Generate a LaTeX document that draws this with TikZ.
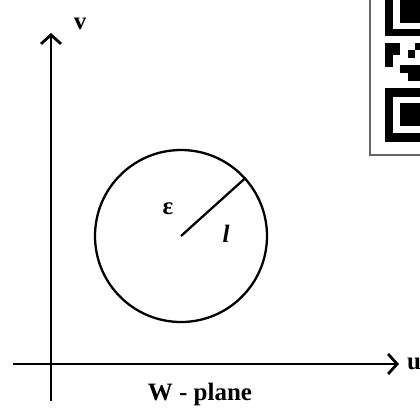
\documentclass[tikz,border=0pt]{standalone}
\usepackage{fontspec}
\setmainfont{Liberation Serif}
\usetikzlibrary{arrows.meta}
\tikzset{
  axis/.style={line width=2.8pt, -{Straight Barb[length=9pt,width=20pt,line width=2.8pt]}},
  lab/.style={font=\bfseries\fontsize{25}{27}\selectfont, inner sep=0pt},
  qr/.style={fill=black, draw=none},
  qrw/.style={fill=white, draw=none}
}
\begin{document}
\begin{tikzpicture}[x=1pt,y=-1pt]
\useasboundingbox (0,0) rectangle (420,408);
% axes
\coordinate (vbot) at (51,401);
\coordinate (vtop) at (51,33);
\coordinate (hl) at (13,364);
\coordinate (hr) at (399,364);
\draw[axis] (vbot) -- (vtop);
\draw[axis] (hl) -- (hr);
\node[lab] (v) at (80,24) {v};
\node[lab] (u) at (414,364) {u};
\node[lab] (w) at (200,394) {W - plane};
% circle
\node[draw, line width=2.3pt, circle, minimum size=172pt, inner sep=0pt] (c) at (181,236) {};
\coordinate (ctr) at (181,236);
\draw[line width=2.3pt] (ctr) -- (c.42);
\node[lab] (eps) at (168,209) {ε};
\node[lab, font=\bfseries\itshape\fontsize{25}{27}\selectfont] (l) at (226,234) {l};
% QR box
\begin{scope}
\clip (0,0) rectangle (420,408);
\draw[line width=1.5pt, draw=black!60] (370,-5) rectangle (430,155);
\fill[qr] (385,-5) rectangle (430,36);
\fill[qrw] (393,-5) rectangle (430,29);
\fill[qr] (400,-5) rectangle (430,23);
\fill[qr] (385,43) rectangle (400,55);
\fill[qr] (385,55) rectangle (393,67);
\fill[qr] (408,50) rectangle (415,58);
\fill[qr] (415,43) rectangle (430,50);
\fill[qr] (400,65) rectangle (430,73);
\fill[qr] (408,73) rectangle (430,81);
\fill[qr] (385,88) rectangle (430,142);
\fill[qrw] (393,97) rectangle (430,133);
\fill[qr] (400,103) rectangle (430,126);
\end{scope}
\end{tikzpicture}
\end{document}
